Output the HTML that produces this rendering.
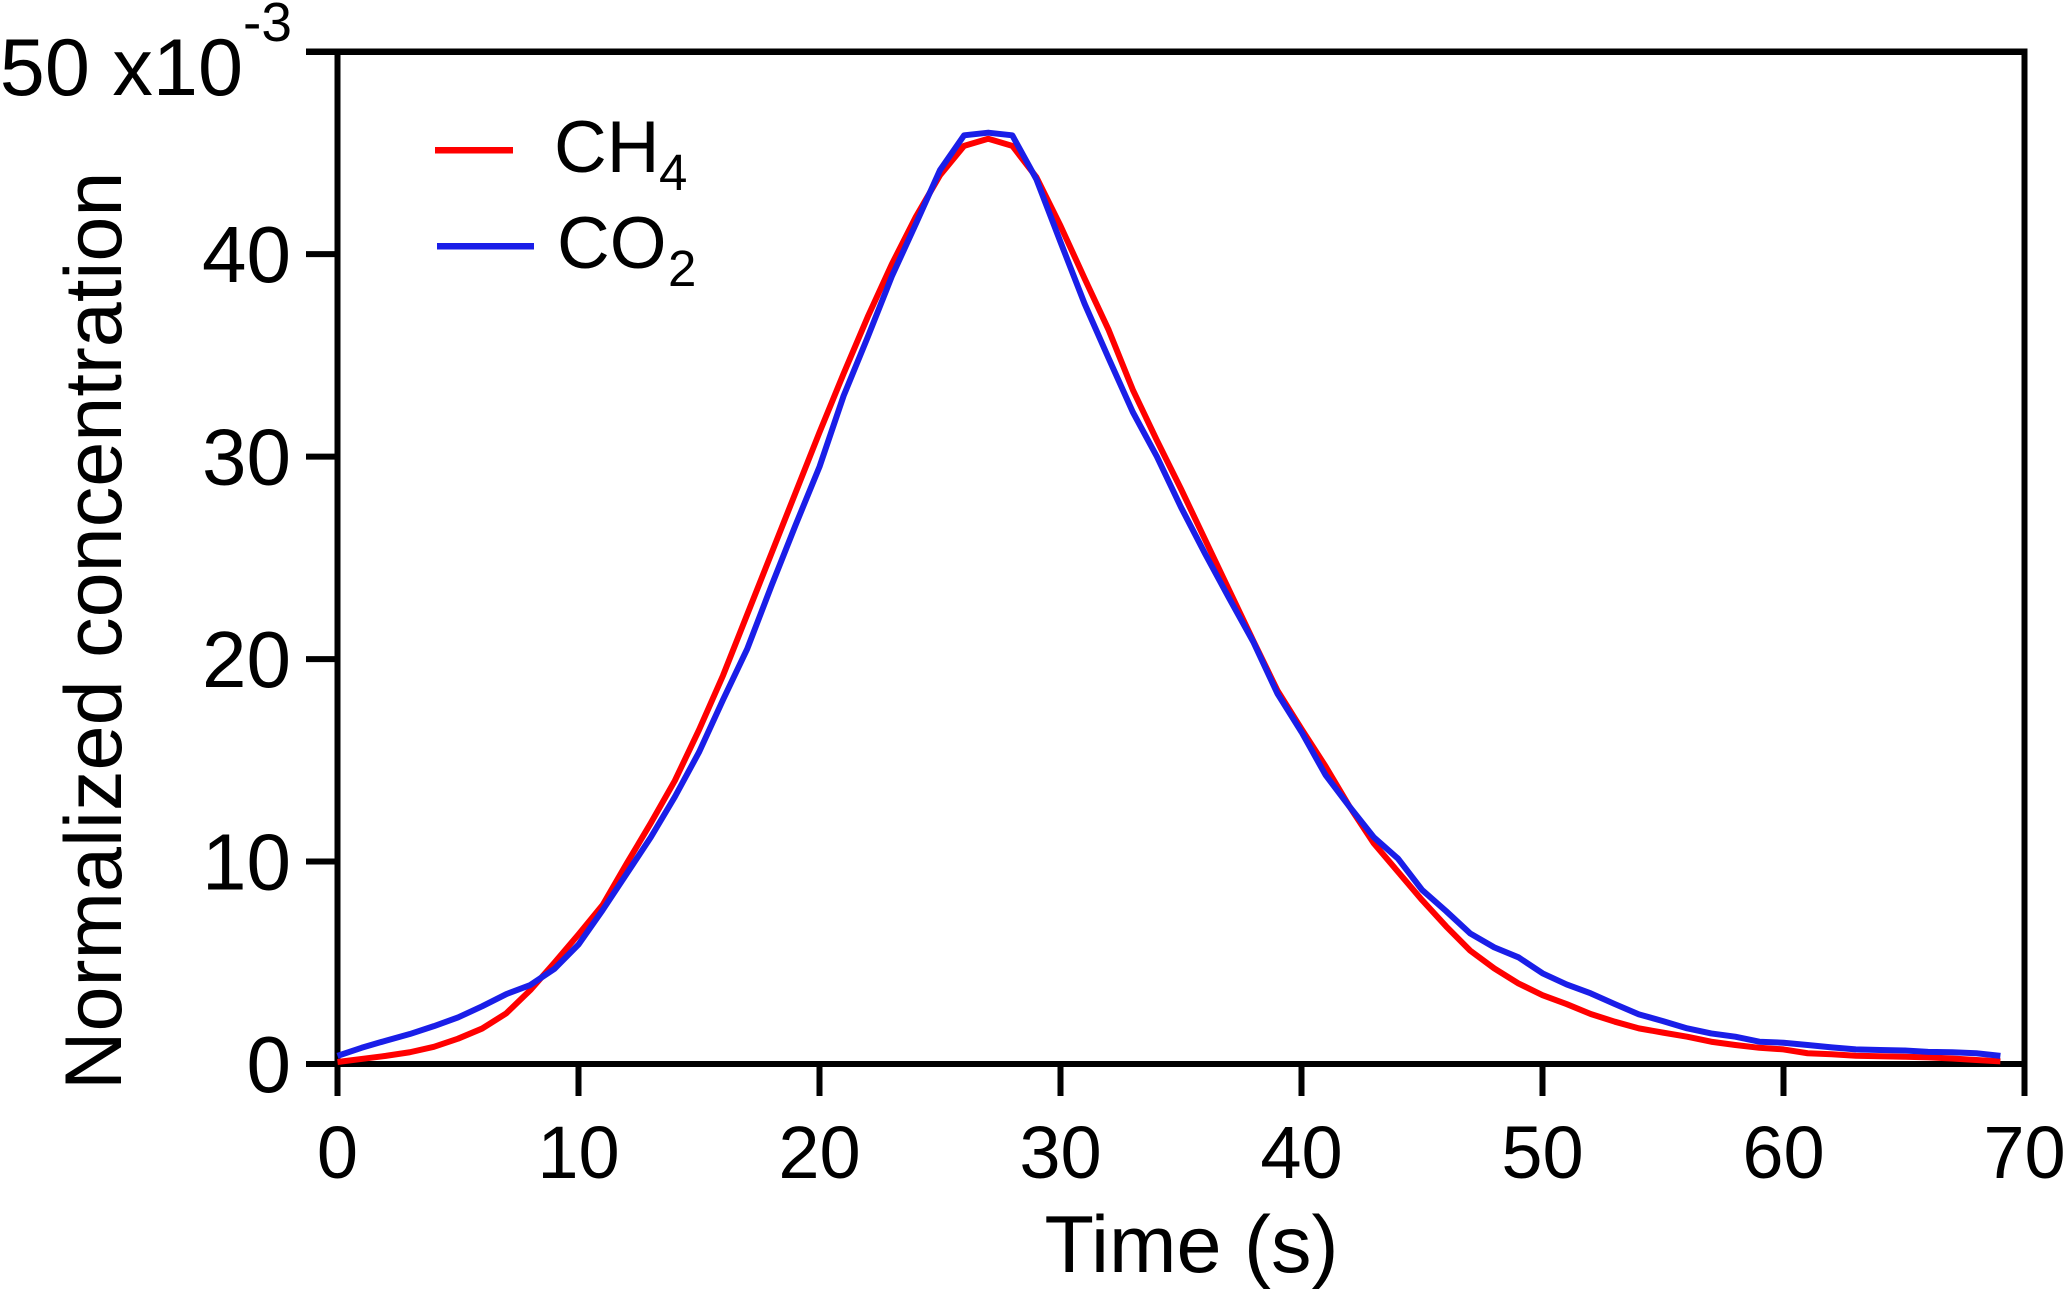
<!DOCTYPE html>
<html lang="en">
<head>
<meta charset="utf-8">
<title>Normalized concentration vs time</title>
<style>
html,body{margin:0;padding:0;background:#fff;width:2067px;height:1292px;overflow:hidden}
svg{display:block}
text{font-family:"Liberation Sans",Arial,sans-serif;fill:#000}
</style>
</head>
<body>
<svg id="chart" xmlns="http://www.w3.org/2000/svg" width="2067" height="1292" viewBox="0 0 2067 1292">
  <rect x="0" y="0" width="2067" height="1292" fill="#fff"/>
  <g id="axes"></g>
  <g id="series"></g>
  <g>
    <rect x="435" y="147" width="78" height="6.5" fill="#ff0000"/>
    <text x="554" y="172" font-size="73">CH</text>
    <text x="659" y="190" font-size="51">4</text>
    <rect x="437" y="243" width="97" height="6.5" fill="#1a1ee8"/>
    <text x="557" y="268" font-size="73">CO</text>
    <text x="668" y="286" font-size="51">2</text>
  </g>
  <text transform="translate(121,1090) rotate(-90)" font-size="81">Normalized concentration</text>
  <text x="1191.5" y="1272" font-size="81" text-anchor="middle">Time (s)</text>
  <text x="243" y="95" font-size="81" text-anchor="end">50 x10</text>
  <text x="243" y="41" font-size="55">-3</text>
</svg>
<script>
const times = [0,1,2,3,4,5,6,7,8,9,10,11,12,13,14,15,16,17,18,19,20,21,22,23,24,25,26,27,28,29,30,31,32,33,34,35,36,37,38,39,40,41,42,43,44,45,46,47,48,49,50,51,52,53,54,55,56,57,58,59,60,61,62,63,64,65,66,67,68,69];
const ch4Values = [0.1,0.25,0.4,0.58,0.85,1.25,1.75,2.5,3.65,5.0,6.4,7.85,9.9,11.9,14.0,16.5,19.2,22.2,25.2,28.2,31.2,34.1,36.9,39.5,41.85,43.9,45.35,45.7,45.35,43.8,41.4,38.8,36.25,33.3,30.8,28.4,25.9,23.4,20.9,18.45,16.55,14.7,12.7,10.9,9.5,8.1,6.8,5.6,4.72,3.98,3.4,2.96,2.47,2.09,1.76,1.55,1.35,1.1,0.94,0.8,0.72,0.53,0.48,0.41,0.38,0.36,0.33,0.27,0.2,0.13];
const co2Values = [0.4,0.8,1.15,1.48,1.87,2.3,2.85,3.45,3.9,4.7,5.9,7.6,9.4,11.2,13.2,15.4,18.0,20.5,23.6,26.6,29.5,33.0,35.9,38.9,41.5,44.15,45.87,46.0,45.87,43.7,40.6,37.55,34.85,32.2,30.0,27.5,25.2,23.0,20.85,18.3,16.4,14.27,12.7,11.2,10.15,8.6,7.55,6.45,5.76,5.27,4.48,3.93,3.49,2.96,2.45,2.12,1.76,1.51,1.35,1.1,1.05,0.94,0.82,0.72,0.69,0.67,0.6,0.58,0.53,0.4];
const xTickValues = [0,10,20,30,40,50,60,70];
const yTickValues = [0,10,20,30,40,50];
const yTickLabels = ["0","10","20","30","40"];

const X_MIN = 0, X_MAX = 70, Y_MIN = 0, Y_MAX = 50;
const LEFT = 337.5, RIGHT = 2024.5, TOP = 51.7, BOTTOM = 1064;
const SVG_NS = "http://www.w3.org/2000/svg";
function xScale(v){ return LEFT + (v - X_MIN) / (X_MAX - X_MIN) * (RIGHT - LEFT); }
function yScale(v){ return BOTTOM - (v - Y_MIN) / (Y_MAX - Y_MIN) * (BOTTOM - TOP); }

const axes = document.getElementById("axes");
const seriesGroup = document.getElementById("series");

function makeLine(x1, y1, x2, y2, w){
  const l = document.createElementNS(SVG_NS, "line");
  l.setAttribute("x1", x1);
  l.setAttribute("y1", y1);
  l.setAttribute("x2", x2);
  l.setAttribute("y2", y2);
  l.setAttribute("stroke", "#000");
  l.setAttribute("stroke-width", w);
  axes.appendChild(l);
  return l;
}

const TICK_OUT_LEFT = 306, TICK_OUT_BOTTOM = 1096;

const topAxis = makeLine(TICK_OUT_LEFT, TOP, RIGHT + 3, TOP, 6.5);



const leftAxis = makeLine(LEFT, TOP, LEFT, TICK_OUT_BOTTOM, 6);



const rightAxis = makeLine(RIGHT, TOP, RIGHT, TICK_OUT_BOTTOM, 6);



const bottomAxis = makeLine(TICK_OUT_LEFT, BOTTOM, RIGHT + 3, BOTTOM, 6);



xTickValues.forEach(function(v){
  const tick = makeLine(xScale(v), BOTTOM, xScale(v), TICK_OUT_BOTTOM, 6);
  
  
  const t = document.createElementNS(SVG_NS, "text");
  
  
  t.setAttribute("x", xScale(v));
  t.setAttribute("y", 1178);
  t.setAttribute("font-size", 74);
  t.setAttribute("text-anchor", "middle");
  t.textContent = String(v);
  axes.appendChild(t);
});

yTickValues.forEach(function(v, i){
  const tick = makeLine(TICK_OUT_LEFT, yScale(v), LEFT, yScale(v), 6);
  
  
  if (i < yTickLabels.length) {
    const t = document.createElementNS(SVG_NS, "text");
    
    
    t.setAttribute("x", 291);
    t.setAttribute("y", yScale(v) + 28);
    t.setAttribute("font-size", 80);
    t.setAttribute("text-anchor", "end");
    t.textContent = yTickLabels[i];
    axes.appendChild(t);
  }
});

function pathFrom(values){
  return values.map(function(v, i){
    return (i ? "L" : "M") + xScale(times[i]).toFixed(2) + " " + yScale(v).toFixed(2);
  }).join(" ");
}

const ch4Line = document.createElementNS(SVG_NS, "path");


ch4Line.setAttribute("d", pathFrom(ch4Values));
ch4Line.setAttribute("fill", "none");
ch4Line.setAttribute("stroke", "#ff0000");
ch4Line.setAttribute("stroke-width", 6);
ch4Line.setAttribute("stroke-linejoin", "round");
seriesGroup.appendChild(ch4Line);

const co2Line = document.createElementNS(SVG_NS, "path");


co2Line.setAttribute("d", pathFrom(co2Values));
co2Line.setAttribute("fill", "none");
co2Line.setAttribute("stroke", "#1a1ee8");
co2Line.setAttribute("stroke-width", 6);
co2Line.setAttribute("stroke-linejoin", "round");
seriesGroup.appendChild(co2Line);
</script>
</body>
</html>
